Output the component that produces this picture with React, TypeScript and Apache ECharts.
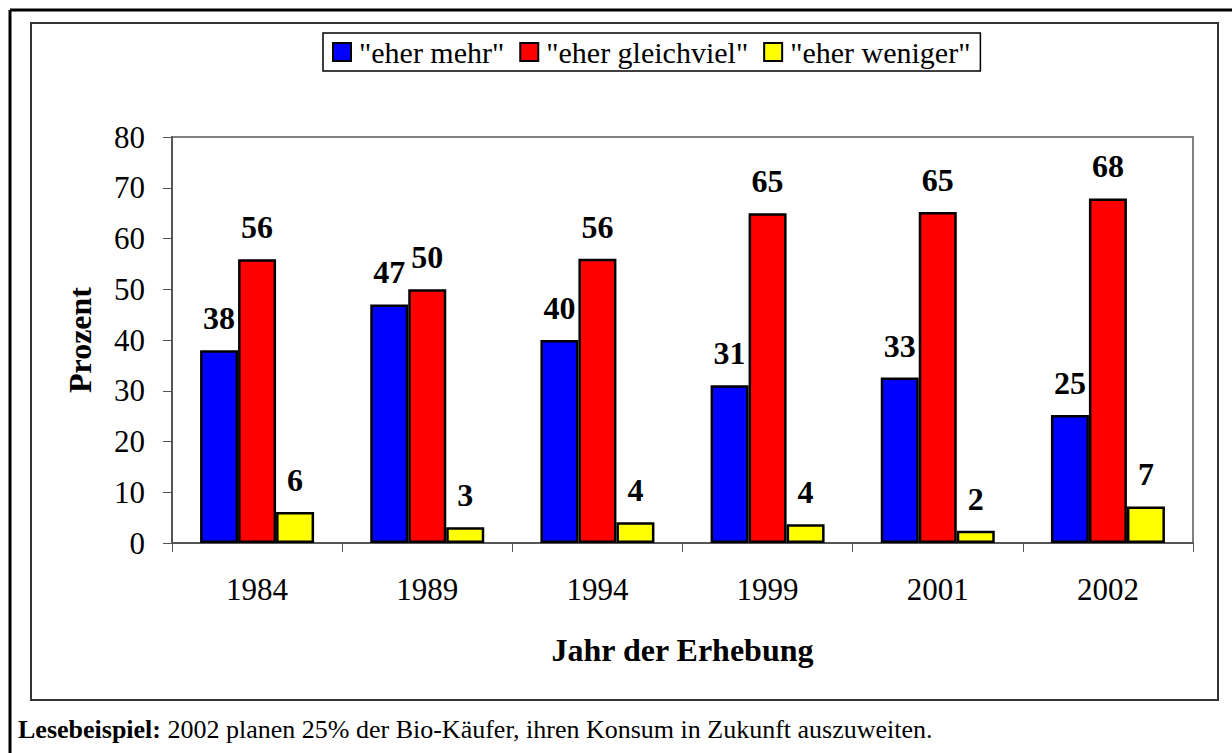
import React, { useEffect, useRef } from "react";
import * as echarts from "echarts";

const years = ["1984", "1989", "1994", "1999", "2001", "2002"];
const seriesNames = ['"eher mehr"', '"eher gleichviel"', '"eher weniger"'];
const eherMehr = [38, 47, 40, 31.1, 32.6, 25.2];
const eherGleichviel = [55.9, 50, 56, 65, 65.2, 67.9];
const eherWeniger = [6.1, 3.1, 4.1, 3.7, 2.4, 7.2];
const colors = ["#0000FF", "#FF0000", "#FFFF00"];
const yTicks = { min: 0, max: 80, interval: 10 };
const footBold = "Lesebeispiel:";
const footText = " 2002 planen 25% der Bio-Käufer, ihren Konsum in Zukunft auszuweiten.";

const FONT = "'Liberation Serif', 'Times New Roman', serif";

export default function App() {
  const ref = useRef<HTMLDivElement>(null);
  useEffect(() => {
    if (!ref.current) return;
    const chart = echarts.init(ref.current, undefined, { renderer: "svg" });
    const data = [eherMehr, eherGleichviel, eherWeniger];
    chart.setOption({
      animation: false,
      backgroundColor: "#ffffff",
      textStyle: { fontFamily: FONT, color: "#000" },
      legend: {
        left: 323,
        top: 33,
        orient: "horizontal",
        backgroundColor: "#fff",
        borderColor: "#000",
        borderWidth: 1.5,
        padding: [4, 10, 4, 9],
        itemWidth: 18,
        itemHeight: 18,
        itemGap: 15,
        icon: "rect",
        textStyle: { fontFamily: FONT, fontSize: 30, color: "#000", padding: [0, 0, 0, 3] },
        data: seriesNames,
      },
      grid: {
        left: 172,
        right: 39,
        top: 137,
        bottom: 210,
        show: true,
        borderColor: "#808080",
        borderWidth: 2,
        backgroundColor: "transparent",
      },
      xAxis: {
        type: "category",
        data: years,
        name: "Jahr der Erhebung",
        nameLocation: "middle",
        nameGap: 91,
        nameTextStyle: { fontFamily: FONT, fontSize: 32, fontWeight: "bold", color: "#000" },
        axisLine: { show: true, lineStyle: { color: "#555", width: 2 } },
        axisTick: { show: true, alignWithLabel: false, length: 9, inside: false, lineStyle: { color: "#555", width: 1 } },
        axisLabel: { fontFamily: FONT, fontSize: 31, color: "#000", margin: 31 },
      },
      yAxis: {
        type: "value",
        min: yTicks.min,
        max: yTicks.max,
        interval: yTicks.interval,
        name: "Prozent",
        nameLocation: "middle",
        nameRotate: 90,
        nameGap: 76,
        nameTextStyle: { fontFamily: FONT, fontSize: 32, fontWeight: "bold", color: "#000" },
        axisLine: { show: true, lineStyle: { color: "#555", width: 2 } },
        axisTick: { show: true, length: 9, lineStyle: { color: "#555", width: 1 } },
        axisLabel: { fontFamily: FONT, fontSize: 31, color: "#000", margin: 27 },
        splitLine: { show: false },
      },
      series: data.map((vals, i) => ({
        name: seriesNames[i],
        type: "bar",
        data: vals,
        barGap: "0%",
        barCategoryGap: "33%",
        itemStyle: { color: colors[i], borderColor: "#000", borderWidth: 2.5 },
        label: {
          show: true,
          position: "top",
          distance: 16,
          fontFamily: FONT,
          fontSize: 32,
          fontWeight: "bold",
          color: "#000",
          formatter: (p: any) => String(Math.round(p.value)),
        },
      })),
      graphic: [
        {
          type: "line",
          shape: { x1: 10, y1: 10, x2: 1232, y2: 10 },
          style: { stroke: "#000", lineWidth: 3 },
        },
        {
          type: "line",
          shape: { x1: 10, y1: 10, x2: 10, y2: 753 },
          style: { stroke: "#000", lineWidth: 3 },
        },
        {
          type: "rect",
          shape: { x: 31, y: 23, width: 1187, height: 677 },
          style: { fill: "none", stroke: "#333", lineWidth: 2 },
          z: -1,
        },
        {
          type: "text",
          x: 18,
          y: 729,
          style: {
            text: "{b|" + footBold + "}{n|" + footText + "}",
            verticalAlign: "middle",
            rich: {
              b: { fontFamily: FONT, fontSize: 26, fontWeight: "bold", fill: "#000" },
              n: { fontFamily: FONT, fontSize: 26, fill: "#000" },
            },
          },
        },
      ],
    });
    return () => chart.dispose();
  }, []);
  return (
    <div
      ref={ref}
      style={{ position: "absolute", left: 0, top: 0, width: 1232, height: 753 }}
    />
  );
}
